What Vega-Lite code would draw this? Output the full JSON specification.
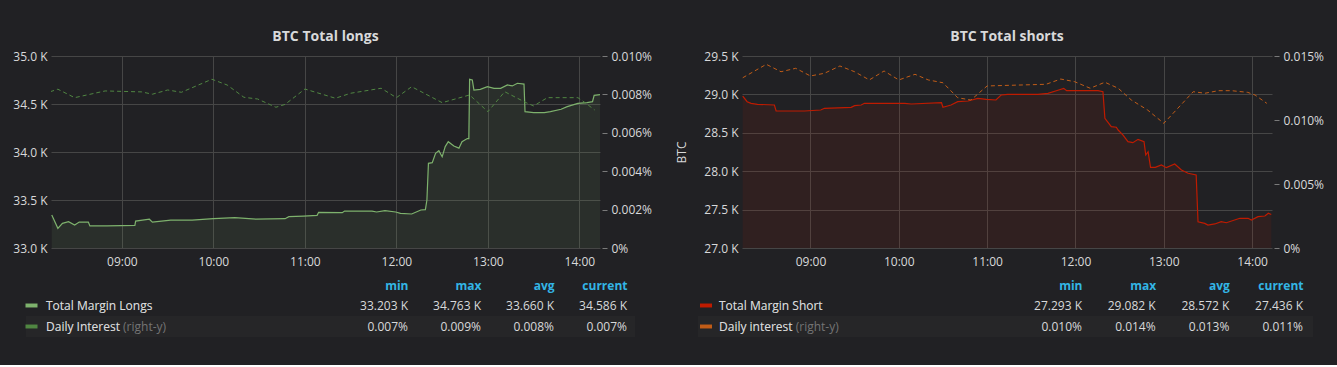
{
  "$schema": "https://vega.github.io/schema/vega-lite/v6.json",
  "background": "#212124",
  "padding": {"left": 0, "top": 30, "right": 1, "bottom": 28},
  "config": {
    "font": "Open Sans",
    "view": {"stroke": null},
    "axis": {"labelFont": "Open Sans", "labelFontSize": 12, "labelColor": "#d8d9da", "titleFont": "Open Sans", "titleFontSize": 12, "titleFontWeight": "normal", "titleColor": "#d8d9da", "domain": false, "ticks": false, "gridColor": "#464646"},
    "title": {"font": "Open Sans", "fontSize": 14, "fontWeight": "bold", "color": "#d8d9da", "offset": 6}
  },
  "datasets": {
    "longs": [
      {"time": "2018-01-15T08:14:00", "btc": 33344}, {"time": "2018-01-15T08:15:00", "btc": 33310}, {"time": "2018-01-15T08:18:00", "btc": 33205},
      {"time": "2018-01-15T08:21:00", "btc": 33257}, {"time": "2018-01-15T08:25:00", "btc": 33274}, {"time": "2018-01-15T08:29:00", "btc": 33240},
      {"time": "2018-01-15T08:32:00", "btc": 33270}, {"time": "2018-01-15T08:38:00", "btc": 33270}, {"time": "2018-01-15T08:39:00", "btc": 33230},
      {"time": "2018-01-15T08:50:00", "btc": 33230}, {"time": "2018-01-15T09:08:30", "btc": 33236}, {"time": "2018-01-15T09:09:00", "btc": 33280},
      {"time": "2018-01-15T09:18:00", "btc": 33300}, {"time": "2018-01-15T09:20:00", "btc": 33270}, {"time": "2018-01-15T09:32:00", "btc": 33290},
      {"time": "2018-01-15T09:46:00", "btc": 33290}, {"time": "2018-01-15T10:00:00", "btc": 33305}, {"time": "2018-01-15T10:14:00", "btc": 33316},
      {"time": "2018-01-15T10:28:00", "btc": 33300}, {"time": "2018-01-15T10:47:00", "btc": 33305}, {"time": "2018-01-15T10:49:30", "btc": 33326},
      {"time": "2018-01-15T10:59:00", "btc": 33333}, {"time": "2018-01-15T11:08:00", "btc": 33340}, {"time": "2018-01-15T11:09:00", "btc": 33372},
      {"time": "2018-01-15T11:24:30", "btc": 33368}, {"time": "2018-01-15T11:26:00", "btc": 33385}, {"time": "2018-01-15T11:44:00", "btc": 33385},
      {"time": "2018-01-15T11:47:00", "btc": 33375}, {"time": "2018-01-15T11:52:30", "btc": 33390}, {"time": "2018-01-15T11:59:30", "btc": 33375},
      {"time": "2018-01-15T12:02:40", "btc": 33360}, {"time": "2018-01-15T12:10:00", "btc": 33354}, {"time": "2018-01-15T12:16:00", "btc": 33396},
      {"time": "2018-01-15T12:19:00", "btc": 33400}, {"time": "2018-01-15T12:20:00", "btc": 33500}, {"time": "2018-01-15T12:21:00", "btc": 33882},
      {"time": "2018-01-15T12:23:30", "btc": 33889}, {"time": "2018-01-15T12:25:40", "btc": 33986}, {"time": "2018-01-15T12:27:50", "btc": 34014},
      {"time": "2018-01-15T12:30:00", "btc": 33950}, {"time": "2018-01-15T12:32:00", "btc": 34056}, {"time": "2018-01-15T12:34:00", "btc": 34107},
      {"time": "2018-01-15T12:37:40", "btc": 34063}, {"time": "2018-01-15T12:41:00", "btc": 34040}, {"time": "2018-01-15T12:43:00", "btc": 34107},
      {"time": "2018-01-15T12:46:30", "btc": 34140}, {"time": "2018-01-15T12:47:30", "btc": 34140}, {"time": "2018-01-15T12:48:00", "btc": 34757},
      {"time": "2018-01-15T12:49:45", "btc": 34750}, {"time": "2018-01-15T12:50:50", "btc": 34646}, {"time": "2018-01-15T12:55:00", "btc": 34653},
      {"time": "2018-01-15T12:59:40", "btc": 34680}, {"time": "2018-01-15T13:04:00", "btc": 34663}, {"time": "2018-01-15T13:08:20", "btc": 34663},
      {"time": "2018-01-15T13:12:50", "btc": 34698}, {"time": "2018-01-15T13:16:00", "btc": 34688}, {"time": "2018-01-15T13:19:20", "btc": 34716},
      {"time": "2018-01-15T13:23:40", "btc": 34708}, {"time": "2018-01-15T13:24:20", "btc": 34420}, {"time": "2018-01-15T13:30:00", "btc": 34410},
      {"time": "2018-01-15T13:37:00", "btc": 34410}, {"time": "2018-01-15T13:41:00", "btc": 34420}, {"time": "2018-01-15T13:48:00", "btc": 34445},
      {"time": "2018-01-15T13:52:00", "btc": 34472}, {"time": "2018-01-15T13:59:00", "btc": 34507}, {"time": "2018-01-15T14:05:00", "btc": 34514},
      {"time": "2018-01-15T14:08:35", "btc": 34524}, {"time": "2018-01-15T14:09:40", "btc": 34590}, {"time": "2018-01-15T14:13:30", "btc": 34597}
    ],
    "longsRate": [
      {"time": "2018-01-15T08:13:00", "rate": 0.00814}, {"time": "2018-01-15T08:18:00", "rate": 0.00827}, {"time": "2018-01-15T08:29:00", "rate": 0.00783},
      {"time": "2018-01-15T08:49:00", "rate": 0.00818}, {"time": "2018-01-15T09:13:00", "rate": 0.00813}, {"time": "2018-01-15T09:20:00", "rate": 0.00801},
      {"time": "2018-01-15T09:30:00", "rate": 0.00823}, {"time": "2018-01-15T09:39:00", "rate": 0.00811}, {"time": "2018-01-15T09:59:00", "rate": 0.00879},
      {"time": "2018-01-15T10:09:00", "rate": 0.00849}, {"time": "2018-01-15T10:20:00", "rate": 0.00785}, {"time": "2018-01-15T10:29:00", "rate": 0.00776},
      {"time": "2018-01-15T10:41:00", "rate": 0.00733}, {"time": "2018-01-15T10:47:00", "rate": 0.00748}, {"time": "2018-01-15T11:00:00", "rate": 0.00828},
      {"time": "2018-01-15T11:20:00", "rate": 0.00780}, {"time": "2018-01-15T11:30:00", "rate": 0.00806}, {"time": "2018-01-15T11:50:00", "rate": 0.00832},
      {"time": "2018-01-15T12:00:00", "rate": 0.00783}, {"time": "2018-01-15T12:10:00", "rate": 0.00840}, {"time": "2018-01-15T12:30:00", "rate": 0.00757},
      {"time": "2018-01-15T12:48:00", "rate": 0.00797}, {"time": "2018-01-15T13:00:00", "rate": 0.00710}, {"time": "2018-01-15T13:11:00", "rate": 0.00814},
      {"time": "2018-01-15T13:25:00", "rate": 0.00757}, {"time": "2018-01-15T13:30:00", "rate": 0.00740}, {"time": "2018-01-15T13:39:00", "rate": 0.00783},
      {"time": "2018-01-15T13:59:00", "rate": 0.00783}, {"time": "2018-01-15T14:02:00", "rate": 0.00767}, {"time": "2018-01-15T14:10:00", "rate": 0.00719}
    ],
    "shorts": [
      {"time": "2018-01-15T08:14:00", "btc": 28979}, {"time": "2018-01-15T08:17:00", "btc": 28905}, {"time": "2018-01-15T08:19:40", "btc": 28884},
      {"time": "2018-01-15T08:24:00", "btc": 28871}, {"time": "2018-01-15T08:35:30", "btc": 28862}, {"time": "2018-01-15T08:36:40", "btc": 28784},
      {"time": "2018-01-15T08:56:00", "btc": 28784}, {"time": "2018-01-15T09:07:00", "btc": 28797}, {"time": "2018-01-15T09:09:30", "btc": 28819},
      {"time": "2018-01-15T09:27:40", "btc": 28832}, {"time": "2018-01-15T09:30:00", "btc": 28853}, {"time": "2018-01-15T09:34:30", "btc": 28862},
      {"time": "2018-01-15T09:36:40", "btc": 28884}, {"time": "2018-01-15T10:04:00", "btc": 28884}, {"time": "2018-01-15T10:08:30", "btc": 28875},
      {"time": "2018-01-15T10:29:00", "btc": 28892}, {"time": "2018-01-15T10:30:00", "btc": 28832}, {"time": "2018-01-15T10:35:30", "btc": 28862},
      {"time": "2018-01-15T10:40:00", "btc": 28905}, {"time": "2018-01-15T10:47:00", "btc": 28914}, {"time": "2018-01-15T10:53:40", "btc": 28949},
      {"time": "2018-01-15T10:59:30", "btc": 28936}, {"time": "2018-01-15T11:06:00", "btc": 28927}, {"time": "2018-01-15T11:09:30", "btc": 28992},
      {"time": "2018-01-15T11:14:00", "btc": 29001}, {"time": "2018-01-15T11:34:30", "btc": 29001}, {"time": "2018-01-15T11:41:20", "btc": 29014},
      {"time": "2018-01-15T11:47:00", "btc": 29048}, {"time": "2018-01-15T11:52:00", "btc": 29079}, {"time": "2018-01-15T11:54:00", "btc": 29048},
      {"time": "2018-01-15T12:15:20", "btc": 29048}, {"time": "2018-01-15T12:18:40", "btc": 29035}, {"time": "2018-01-15T12:20:00", "btc": 28689},
      {"time": "2018-01-15T12:24:20", "btc": 28580}, {"time": "2018-01-15T12:27:45", "btc": 28572}, {"time": "2018-01-15T12:29:00", "btc": 28536},
      {"time": "2018-01-15T12:32:20", "btc": 28471}, {"time": "2018-01-15T12:35:40", "btc": 28384}, {"time": "2018-01-15T12:39:00", "btc": 28371},
      {"time": "2018-01-15T12:42:30", "btc": 28415}, {"time": "2018-01-15T12:46:35", "btc": 28384}, {"time": "2018-01-15T12:47:45", "btc": 28211},
      {"time": "2018-01-15T12:49:20", "btc": 28254}, {"time": "2018-01-15T12:51:00", "btc": 28051}, {"time": "2018-01-15T12:54:15", "btc": 28051},
      {"time": "2018-01-15T12:58:20", "btc": 28081}, {"time": "2018-01-15T13:01:45", "btc": 28046}, {"time": "2018-01-15T13:07:25", "btc": 28094},
      {"time": "2018-01-15T13:12:00", "btc": 28016}, {"time": "2018-01-15T13:16:30", "btc": 27973}, {"time": "2018-01-15T13:22:00", "btc": 27951},
      {"time": "2018-01-15T13:23:15", "btc": 27342}, {"time": "2018-01-15T13:27:50", "btc": 27321}, {"time": "2018-01-15T13:30:00", "btc": 27299},
      {"time": "2018-01-15T13:34:40", "btc": 27313}, {"time": "2018-01-15T13:39:00", "btc": 27342}, {"time": "2018-01-15T13:42:30", "btc": 27329},
      {"time": "2018-01-15T13:51:40", "btc": 27387}, {"time": "2018-01-15T13:57:15", "btc": 27387}, {"time": "2018-01-15T13:59:30", "btc": 27365},
      {"time": "2018-01-15T14:04:00", "btc": 27408}, {"time": "2018-01-15T14:08:40", "btc": 27417}, {"time": "2018-01-15T14:11:00", "btc": 27452},
      {"time": "2018-01-15T14:13:00", "btc": 27436}
    ],
    "shortsRate": [
      {"time": "2018-01-15T08:14:00", "rate": 0.01330}, {"time": "2018-01-15T08:30:00", "rate": 0.01435}, {"time": "2018-01-15T08:40:00", "rate": 0.01377},
      {"time": "2018-01-15T08:50:00", "rate": 0.01404}, {"time": "2018-01-15T09:00:00", "rate": 0.01344}, {"time": "2018-01-15T09:09:30", "rate": 0.01365},
      {"time": "2018-01-15T09:20:00", "rate": 0.01422}, {"time": "2018-01-15T09:30:00", "rate": 0.01377}, {"time": "2018-01-15T09:40:00", "rate": 0.01313},
      {"time": "2018-01-15T09:50:00", "rate": 0.01383}, {"time": "2018-01-15T10:00:00", "rate": 0.01313}, {"time": "2018-01-15T10:11:00", "rate": 0.01357},
      {"time": "2018-01-15T10:20:00", "rate": 0.01313}, {"time": "2018-01-15T10:30:00", "rate": 0.01291}, {"time": "2018-01-15T10:40:00", "rate": 0.01174},
      {"time": "2018-01-15T10:49:00", "rate": 0.01156}, {"time": "2018-01-15T11:00:00", "rate": 0.01266}, {"time": "2018-01-15T11:40:00", "rate": 0.01279},
      {"time": "2018-01-15T11:50:00", "rate": 0.01320}, {"time": "2018-01-15T11:59:30", "rate": 0.01299}, {"time": "2018-01-15T12:10:00", "rate": 0.01248},
      {"time": "2018-01-15T12:20:00", "rate": 0.01295}, {"time": "2018-01-15T12:29:00", "rate": 0.01248}, {"time": "2018-01-15T12:38:00", "rate": 0.01156},
      {"time": "2018-01-15T12:49:00", "rate": 0.01078}, {"time": "2018-01-15T13:00:00", "rate": 0.00974}, {"time": "2018-01-15T13:20:00", "rate": 0.01221},
      {"time": "2018-01-15T13:28:00", "rate": 0.01209}, {"time": "2018-01-15T13:37:00", "rate": 0.01229}, {"time": "2018-01-15T13:46:00", "rate": 0.01229},
      {"time": "2018-01-15T13:57:00", "rate": 0.01216}, {"time": "2018-01-15T14:02:00", "rate": 0.01195}, {"time": "2018-01-15T14:10:00", "rate": 0.01130}
    ],
    "legendL": [
      {"series": "Total Margin Longs", "label": "Total Margin Longs", "min": "33.203 K", "max": "34.763 K", "avg": "33.660 K", "current": "34.586 K"},
      {"series": "Daily Interest", "label": "Daily Interest (right-y)", "min": "0.007%", "max": "0.009%", "avg": "0.008%", "current": "0.007%"}
    ],
    "legendR": [
      {"series": "Total Margin Short", "label": "Total Margin Short", "min": "27.293 K", "max": "29.082 K", "avg": "28.572 K", "current": "27.436 K"},
      {"series": "Daily interest", "label": "Daily interest (right-y)", "min": "0.010%", "max": "0.014%", "avg": "0.013%", "current": "0.011%"}
    ]
  },
  "concat": [
    {
      "hconcat": [
        {
          "width": 549, "height": 192,
          "title": "BTC Total longs",
          "layer": [
            {
              "data": {"name": "longs"},
              "encoding": {
                "x": {"field": "time", "type": "temporal",
                  "scale": {"domain": [{"year": 2018, "month": 1, "date": 15, "hours": 8, "minutes": 13, "seconds": 30}, {"year": 2018, "month": 1, "date": 15, "hours": 14, "minutes": 13, "seconds": 30}]},
                  "axis": {"title": null, "format": "%H:%M", "grid": true, "labelPadding": 8,
                    "values": [{"year": 2018, "month": 1, "date": 15, "hours": 9}, {"year": 2018, "month": 1, "date": 15, "hours": 10}, {"year": 2018, "month": 1, "date": 15, "hours": 11}, {"year": 2018, "month": 1, "date": 15, "hours": 12}, {"year": 2018, "month": 1, "date": 15, "hours": 13}, {"year": 2018, "month": 1, "date": 15, "hours": 14}]}},
                "y": {"field": "btc", "type": "quantitative", "scale": {"domain": [33000, 35000], "zero": false, "nice": false},
                  "axis": {"title": null, "values": [33000, 33500, 34000, 34500, 35000], "labelExpr": "format(datum.value/1000, '.1f') + ' K'", "grid": true, "labelOverlap": false, "labelPadding": 4, "minExtent": 51, "maxExtent": 51}}
              },
              "layer": [
                {"mark": {"type": "area", "color": "#7EB26D", "fillOpacity": 0.1, "clip": true}},
                {"mark": {"type": "line", "color": "#7EB26D", "strokeWidth": 1.2, "clip": true}}
              ]
            },
            {
              "data": {"name": "longsRate"},
              "mark": {"type": "line", "color": "#508642", "strokeWidth": 1, "strokeDash": [4, 3], "clip": true},
              "encoding": {
                "x": {"field": "time", "type": "temporal"},
                "y": {"field": "rate", "type": "quantitative", "scale": {"domain": [0, 0.01], "nice": false},
                  "axis": {"title": null, "orient": "right", "values": [0, 0.002, 0.004, 0.006, 0.008, 0.01], "labelExpr": "datum.value == 0 ? '0%' : format(datum.value, '.3f') + '%'", "grid": false, "ticks": true, "tickSize": 5, "tickColor": "#7a7a7a", "offset": 2, "labelPadding": 4, "labelOverlap": false, "minExtent": 65, "maxExtent": 65}}
              }
            }
          ],
          "resolve": {"scale": {"y": "independent"}}
        },
        {
          "width": 530, "height": 192,
          "title": "BTC Total shorts",
          "layer": [
            {
              "data": {"name": "shorts"},
              "encoding": {
                "x": {"field": "time", "type": "temporal",
                  "scale": {"domain": [{"year": 2018, "month": 1, "date": 15, "hours": 8, "minutes": 13, "seconds": 30}, {"year": 2018, "month": 1, "date": 15, "hours": 14, "minutes": 13, "seconds": 30}]},
                  "axis": {"title": null, "format": "%H:%M", "grid": true, "labelPadding": 8,
                    "values": [{"year": 2018, "month": 1, "date": 15, "hours": 9}, {"year": 2018, "month": 1, "date": 15, "hours": 10}, {"year": 2018, "month": 1, "date": 15, "hours": 11}, {"year": 2018, "month": 1, "date": 15, "hours": 12}, {"year": 2018, "month": 1, "date": 15, "hours": 13}, {"year": 2018, "month": 1, "date": 15, "hours": 14}]}},
                "y": {"field": "btc", "type": "quantitative", "scale": {"domain": [27000, 29500], "zero": false, "nice": false},
                  "axis": {"title": "BTC", "titlePadding": 9, "values": [27000, 27500, 28000, 28500, 29000, 29500], "labelExpr": "format(datum.value/1000, '.1f') + ' K'", "grid": true, "labelOverlap": false, "labelPadding": 4, "minExtent": 45, "maxExtent": 45}}
              },
              "layer": [
                {"mark": {"type": "area", "color": "#BF1B00", "fillOpacity": 0.1, "clip": true}},
                {"mark": {"type": "line", "color": "#BF1B00", "strokeWidth": 1.2, "clip": true}}
              ]
            },
            {
              "data": {"name": "shortsRate"},
              "mark": {"type": "line", "color": "#C15C17", "strokeWidth": 1, "strokeDash": [4, 3], "clip": true},
              "encoding": {
                "x": {"field": "time", "type": "temporal"},
                "y": {"field": "rate", "type": "quantitative", "scale": {"domain": [0, 0.015], "nice": false},
                  "axis": {"title": null, "orient": "right", "values": [0, 0.005, 0.01, 0.015], "labelExpr": "datum.value == 0 ? '0%' : format(datum.value, '.3f') + '%'", "grid": false, "ticks": true, "tickSize": 5, "tickColor": "#7a7a7a", "offset": 2, "labelPadding": 4, "labelOverlap": false, "minExtent": 62, "maxExtent": 62}}
              }
            }
          ],
          "resolve": {"scale": {"y": "independent"}}
        }
      ],
      "spacing": 8
    },
    {
      "hconcat": [
        {
          "width": 584, "height": 42,
          "data": {"name": "legendL"},
          "encoding": {
            "y": {"field": "series", "type": "nominal", "scale": {"type": "band", "domain": ["Total Margin Longs", "Daily Interest"], "paddingInner": 0, "paddingOuter": 0},
              "axis": {"title": null, "labels": false, "ticks": false, "domain": false, "grid": false, "minExtent": 26, "maxExtent": 26}}
          },
          "layer": [
            {"transform": [{"filter": "datum.series == 'Daily Interest'"}], "mark": {"type": "rect", "color": "#262628"}},
            {"transform": [{"filter": "datum.series == 'Daily Interest'"}],
              "mark": {"type": "point", "shape": "M-0.524,-1H1.952V1H-0.524Z", "filled": true, "size": 441, "opacity": 1, "color": "#262628"},
              "encoding": {
                "x": {"datum": "swatch", "type": "nominal", "scale": {"type": "point", "domain": ["swatch", "name"], "range": [-19.5, -5], "padding": 0}, "axis": null}
              }},
            {"mark": {"type": "point", "shape": "M-1,-0.33H1V0.33H-1Z", "filled": true, "size": 144, "opacity": 1},
              "encoding": {
                "x": {"datum": "swatch", "type": "nominal", "scale": {"type": "point", "domain": ["swatch", "name"], "range": [-19.5, -5], "padding": 0}, "axis": null},
                "color": {"field": "series", "type": "nominal", "scale": {"domain": ["Total Margin Longs", "Daily Interest"], "range": ["#7EB26D", "#508642"]}, "legend": null}
              }},
            {"mark": {"type": "text", "align": "left", "baseline": "middle", "color": "#747474", "fontSize": 12},
              "encoding": {
                "x": {"datum": "name", "type": "nominal", "scale": {"type": "point", "domain": ["swatch", "name"], "range": [-19.5, -5], "padding": 0}, "axis": null},
                "text": {"field": "label"}
              }},
            {"mark": {"type": "text", "align": "left", "baseline": "middle", "color": "#d8d9da", "fontSize": 12},
              "encoding": {
                "x": {"datum": "name", "type": "nominal", "scale": {"type": "point", "domain": ["swatch", "name"], "range": [-19.5, -5], "padding": 0}, "axis": null},
                "text": {"field": "series"}
              }},
            {"transform": [{"fold": ["min", "max", "avg", "current"], "as": ["stat", "value"]}],
              "mark": {"type": "text", "align": "right", "baseline": "middle", "color": "#d8d9da", "fontSize": 12},
              "encoding": {
                "x": {"field": "stat", "type": "nominal", "scale": {"type": "point", "domain": ["min", "max", "avg", "current"], "range": [357, 576], "padding": 0},
                  "axis": {"orient": "top", "title": null, "labelColor": "#33b5e5", "labelFontWeight": "bold", "labelAlign": "right", "labelAngle": 0, "labelPadding": 3, "grid": false}},
                "text": {"field": "value"}
              }}
          ],
          "resolve": {"scale": {"x": "independent"}}
        },
        {
          "width": 615, "height": 42,
          "data": {"name": "legendR"},
          "encoding": {
            "y": {"field": "series", "type": "nominal", "scale": {"type": "band", "domain": ["Total Margin Short", "Daily interest"], "paddingInner": 0, "paddingOuter": 0},
              "axis": {"title": null, "labels": false, "ticks": false, "domain": false, "grid": false, "minExtent": 23, "maxExtent": 23}}
          },
          "layer": [
            {"transform": [{"filter": "datum.series == 'Daily interest'"}], "mark": {"type": "rect", "color": "#262628"}},
            {"mark": {"type": "point", "shape": "M-1,-0.33H1V0.33H-1Z", "filled": true, "size": 144, "opacity": 1},
              "encoding": {
                "x": {"datum": "swatch", "type": "nominal", "scale": {"type": "point", "domain": ["swatch", "name"], "range": [8, 21], "padding": 0}, "axis": null},
                "color": {"field": "series", "type": "nominal", "scale": {"domain": ["Total Margin Short", "Daily interest"], "range": ["#BF1B00", "#C15C17"]}, "legend": null}
              }},
            {"mark": {"type": "text", "align": "left", "baseline": "middle", "color": "#747474", "fontSize": 12},
              "encoding": {
                "x": {"datum": "name", "type": "nominal", "scale": {"type": "point", "domain": ["swatch", "name"], "range": [8, 21], "padding": 0}, "axis": null},
                "text": {"field": "label"}
              }},
            {"mark": {"type": "text", "align": "left", "baseline": "middle", "color": "#d8d9da", "fontSize": 12},
              "encoding": {
                "x": {"datum": "name", "type": "nominal", "scale": {"type": "point", "domain": ["swatch", "name"], "range": [8, 21], "padding": 0}, "axis": null},
                "text": {"field": "series"}
              }},
            {"transform": [{"fold": ["min", "max", "avg", "current"], "as": ["stat", "value"]}],
              "mark": {"type": "text", "align": "right", "baseline": "middle", "color": "#d8d9da", "fontSize": 12},
              "encoding": {
                "x": {"field": "stat", "type": "nominal", "scale": {"type": "point", "domain": ["min", "max", "avg", "current"], "range": [384, 605], "padding": 0},
                  "axis": {"orient": "top", "title": null, "labelColor": "#33b5e5", "labelFontWeight": "bold", "labelAlign": "right", "labelAngle": 0, "labelPadding": 3, "grid": false}},
                "text": {"field": "value"}
              }}
          ],
          "resolve": {"scale": {"x": "independent"}}
        }
      ],
      "spacing": 40,
      "resolve": {"scale": {"color": "independent"}}
    }
  ],
  "columns": 1,
  "align": "none",
  "spacing": 12
}
